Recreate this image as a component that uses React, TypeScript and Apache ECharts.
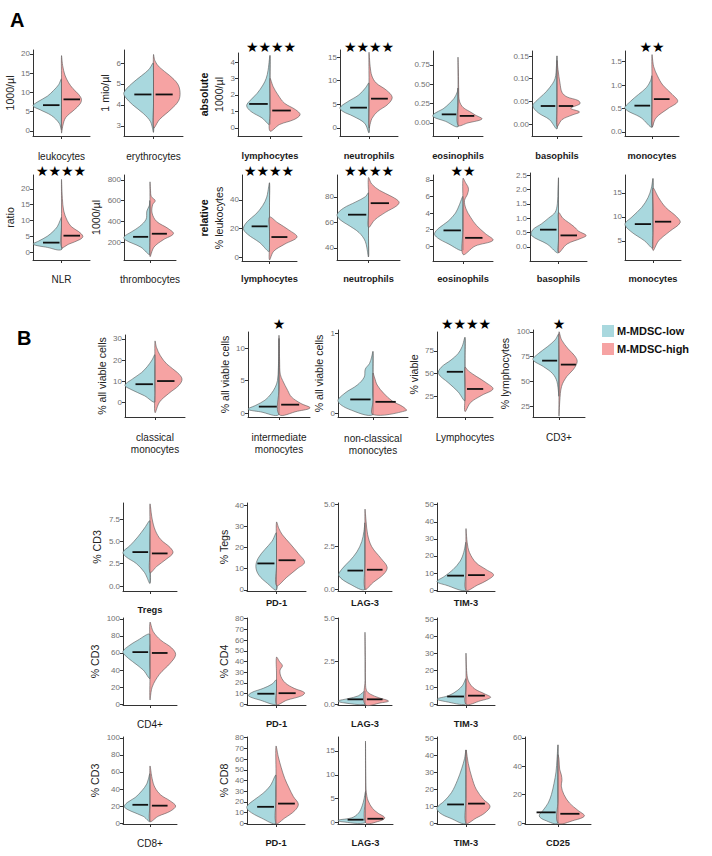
import React, { useEffect, useRef } from "react";
import * as echarts from "echarts";

const LOW_COLOR = "#A9D8DE";
const HIGH_COLOR = "#F6A3A3";
const FONT = "Liberation Sans, Arial, sans-serif";

// ---------- data: violin profiles [value, relative half-width], bottom tip -> top tip ----------
// Panel A, row 1 (absolute)
const leukLow = [[0.3, 0], [2, 0.08], [4, 0.35], [5.5, 0.75], [6.5, 1.0], [7.5, 0.85], [9, 0.5], [10.5, 0.28], [12, 0.1], [13.5, 0]];
const leukHigh = [[-0.5, 0], [1.5, 0.05], [3.5, 0.15], [5.5, 0.45], [7, 0.65], [8.2, 0.7], [9.5, 0.6], [11, 0.4], [12.5, 0.25], [14.5, 0.12], [17, 0.04], [19.5, 0]];
const leukMed = [6.7, 8.2];
const erythLow = [[2.7, 0], [3.2, 0.1], [3.6, 0.35], [4.0, 0.7], [4.4, 0.97], [4.6, 1.0], [5.0, 0.75], [5.4, 0.4], [5.7, 0.15], [6.0, 0]];
const erythHigh = [[2.9, 0], [3.3, 0.2], [3.8, 0.6], [4.2, 0.85], [4.6, 0.9], [5.0, 0.82], [5.4, 0.55], [5.8, 0.2], [6.1, 0.05], [6.4, 0]];
const erythMed = [4.5, 4.5];
const lymphAbsLow = [[0.2, 0], [0.6, 0.25], [1.0, 0.6], [1.35, 0.73], [1.7, 0.6], [2.1, 0.4], [2.6, 0.22], [3.0, 0.12], [3.5, 0.06], [4.4, 0]];
const lymphAbsHigh = [[-0.2, 0], [0.2, 0.3], [0.5, 0.75], [0.8, 0.94], [1.1, 0.8], [1.5, 0.45], [2.0, 0.25], [2.5, 0.1], [3.0, 0]];
const lymphAbsMed = [1.45, 1.05];
const neutAbsLow = [[-1, 0], [1, 0.15], [2.5, 0.55], [3.5, 0.9], [4.3, 1.0], [5.5, 0.75], [7, 0.35], [8.5, 0.12], [9.5, 0]];
const neutAbsHigh = [[0, 0], [2, 0.1], [3.5, 0.3], [5, 0.65], [6.5, 0.8], [8, 0.6], [9.5, 0.25], [11, 0.1], [13, 0.04], [16, 0]];
const neutAbsMed = [4.3, 6.2];
const eosAbsLow = [[-0.05, 0], [0.02, 0.5], [0.08, 1.0], [0.12, 0.95], [0.18, 0.6], [0.25, 0.35], [0.32, 0.15], [0.4, 0.03], [0.45, 0]];
const eosAbsHigh = [[-0.03, 0], [0.0, 0.4], [0.05, 0.96], [0.1, 0.7], [0.15, 0.45], [0.2, 0.2], [0.28, 0.06], [0.4, 0.03], [0.6, 0.02], [0.85, 0]];
const eosAbsMed = [0.11, 0.09];
const basoAbsLow = [[-0.01, 0], [0.01, 0.3], [0.025, 0.75], [0.04, 0.97], [0.05, 0.85], [0.065, 0.55], [0.08, 0.3], [0.1, 0.08], [0.13, 0.02], [0.15, 0]];
const basoAbsHigh = [[-0.005, 0], [0.01, 0.2], [0.02, 0.6], [0.027, 0.9], [0.035, 0.55], [0.045, 0.92], [0.052, 0.85], [0.06, 0.4], [0.07, 0.2], [0.09, 0.12], [0.12, 0.04], [0.14, 0]];
const basoAbsMed = [0.04, 0.04];
const monoAbsLow = [[0.1, 0], [0.3, 0.4], [0.5, 1.0], [0.65, 0.8], [0.8, 0.5], [0.95, 0.2], [1.1, 0.05], [1.2, 0]];
const monoAbsHigh = [[0.1, 0], [0.3, 0.15], [0.5, 0.6], [0.65, 0.95], [0.8, 0.75], [1.0, 0.4], [1.2, 0.2], [1.4, 0.06], [1.65, 0]];
const monoAbsMed = [0.56, 0.7];

// Panel A, row 2 (ratio / relative)
const nlrLow = [[0.8, 0], [1.5, 0.5], [2.5, 1.0], [3.5, 0.8], [5, 0.5], [6.5, 0.3], [8, 0.15], [10, 0.05], [11, 0]];
const nlrHigh = [[1.5, 0], [2.5, 0.25], [4, 0.65], [5, 0.75], [6.5, 0.6], [8, 0.35], [10, 0.2], [13, 0.08], [17, 0.03], [23, 0]];
const nlrMed = [3, 5.2];
const thrombLow = [[80, 0], [150, 0.35], [220, 0.95], [250, 1.0], [300, 0.7], [350, 0.4], [420, 0.15], [500, 0.12], [550, 0.03], [600, 0]];
const thrombHigh = [[60, 0], [150, 0.15], [220, 0.5], [280, 0.9], [330, 0.7], [400, 0.25], [480, 0.08], [560, 0.1], [600, 0.2], [640, 0.05], [700, 0.02], [780, 0]];
const thrombMed = [250, 280];
const lymphRelLow = [[4, 0], [10, 0.35], [16, 0.8], [20, 0.95], [25, 0.8], [30, 0.5], [36, 0.25], [42, 0.1], [52, 0]];
const lymphRelHigh = [[-2, 0], [4, 0.15], [9, 0.55], [14, 1.0], [19, 0.7], [24, 0.3], [28, 0]];
const lymphRelMed = [21.5, 14];
const neutRelLow = [[33, 0], [45, 0.1], [52, 0.3], [58, 0.65], [62, 0.9], [66, 1.0], [71, 0.8], [76, 0.4], [80, 0.1], [83, 0]];
const neutRelHigh = [[56, 0], [62, 0.2], [68, 0.55], [73, 0.9], [76, 0.97], [80, 0.75], [85, 0.35], [90, 0.1], [95, 0]];
const neutRelMed = [66, 75];
const eosRelLow = [[-0.5, 0], [0.3, 0.5], [1.0, 0.85], [1.5, 0.95], [2.2, 0.8], [3, 0.5], [4, 0.25], [5, 0.12], [6, 0]];
const eosRelHigh = [[-1, 0], [0, 0.4], [0.7, 1.0], [1.5, 0.75], [2.5, 0.45], [3.5, 0.25], [4.5, 0.1], [5.5, 0.05], [6.3, 0.15], [7, 0.18], [7.7, 0.08], [8.2, 0]];
const eosRelMed = [1.9, 1.0];
const basoRelLow = [[-0.2, 0], [0.1, 0.4], [0.4, 0.95], [0.6, 0.9], [0.8, 0.6], [1.0, 0.35], [1.2, 0.12], [1.5, 0.04], [2.0, 0.02], [2.4, 0]];
const basoRelHigh = [[-0.2, 0], [0.1, 0.3], [0.3, 0.8], [0.4, 0.97], [0.55, 0.7], [0.7, 0.55], [0.85, 0.35], [1.0, 0.15], [1.2, 0]];
const basoRelMed = [0.6, 0.4];
const monoRelLow = [[3.5, 0], [5, 0.3], [7, 0.8], [8.5, 1.0], [10, 0.75], [12, 0.4], [14, 0.18], [16, 0.06], [18, 0]];
const monoRelHigh = [[3, 0], [5, 0.2], [7, 0.6], [8.8, 0.97], [10, 0.85], [12, 0.45], [14, 0.2], [16, 0]];
const monoRelMed = [8.5, 9];

// Panel B, row 1
const classLow = [[0, 0], [3, 0.35], [6, 0.8], [8, 1.0], [11, 0.75], [14, 0.45], [17, 0.25], [20, 0.1], [22.5, 0]];
const classHigh = [[-5, 0], [0, 0.15], [4, 0.45], [8, 0.8], [11, 0.9], [14, 0.75], [18, 0.4], [22, 0.18], [26, 0.05], [29, 0]];
const classMed = [8.5, 10];
const interLow = [[-0.2, 0], [0.2, 0.6], [0.6, 1.0], [1.2, 0.75], [2, 0.45], [3, 0.25], [4, 0.12], [5, 0.05], [7, 0.02], [11.5, 0]];
const interHigh = [[-0.2, 0], [0.3, 0.6], [0.8, 1.0], [1.5, 0.7], [2.5, 0.4], [3.5, 0.28], [5, 0.12], [6, 0.04], [8, 0.02], [12, 0]];
const interMed = [1.0, 1.3];
const nonclassLow = [[-0.02, 0], [0.05, 0.7], [0.15, 1.0], [0.25, 0.8], [0.35, 0.45], [0.45, 0.25], [0.55, 0.22], [0.62, 0.1], [0.7, 0.04], [0.77, 0]];
const nonclassHigh = [[-0.02, 0], [0.03, 0.95], [0.08, 0.85], [0.15, 0.55], [0.25, 0.3], [0.35, 0.12], [0.45, 0.04], [0.5, 0]];
const nonclassMed = [0.17, 0.14];
const lymphViaLow = [[20, 0], [30, 0.25], [40, 0.6], [50, 0.95], [57, 0.85], [65, 0.5], [72, 0.25], [80, 0.1], [90, 0]];
const lymphViaHigh = [[8, 0], [18, 0.2], [26, 0.6], [33, 1.0], [40, 0.75], [47, 0.4], [53, 0.12], [57, 0]];
const lymphViaMed = [52, 33];
const cd3Low = [[35, 0], [50, 0.08], [58, 0.25], [65, 0.6], [72, 1.0], [78, 0.8], [85, 0.45], [92, 0.15], [98, 0]];
const cd3High = [[15, 0], [30, 0.03], [45, 0.1], [55, 0.3], [62, 0.55], [70, 0.7], [76, 0.6], [83, 0.35], [92, 0.1], [100, 0]];
const cd3Med = [71, 67];

// Panel B, Tregs row
const tregLow = [[0.3, 0], [1.5, 0.2], [2.5, 0.5], [3.3, 0.9], [3.8, 1.0], [4.5, 0.75], [5.5, 0.45], [6.5, 0.2], [7.3, 0]];
const tregHigh = [[1.5, 0], [2.2, 0.25], [3, 0.6], [3.7, 0.85], [4.3, 0.75], [5.2, 0.4], [6.2, 0.2], [7.5, 0.08], [9.2, 0]];
const tregMed = [3.8, 3.65];
const tregPd1Low = [[0, 0], [3, 0.3], [7, 0.6], [11, 0.7], [15, 0.62], [19, 0.4], [23, 0.15], [27, 0]];
const tregPd1High = [[2, 0], [6, 0.35], [10, 0.7], [13, 0.95], [17, 0.75], [22, 0.45], [26, 0.2], [29, 0.08], [32, 0]];
const tregPd1Med = [12.5, 14];
const tregLagLow = [[0, 0], [0.3, 0.55], [0.8, 0.97], [1.2, 0.85], [1.7, 0.55], [2.2, 0.3], [2.8, 0.12], [3.4, 0.04], [3.9, 0]];
const tregLagHigh = [[0, 0], [0.4, 0.3], [0.9, 0.7], [1.3, 0.82], [1.8, 0.6], [2.5, 0.25], [3.2, 0.1], [4.0, 0.04], [4.7, 0]];
const tregLagMed = [1.1, 1.15];
const tregTimLow = [[0, 0], [3, 0.7], [5, 1.0], [8, 0.75], [12, 0.45], [17, 0.2], [22, 0.08], [28, 0]];
const tregTimHigh = [[0, 0], [3, 0.4], [6, 0.75], [9, 0.95], [12, 0.7], [16, 0.35], [22, 0.12], [28, 0.04], [36, 0]];
const tregTimMed = [8.5, 8.8];

// Panel B, CD4+ row
const cd4Low = [[30, 0], [40, 0.25], [50, 0.65], [58, 0.95], [62, 1.0], [68, 0.8], [75, 0.45], [82, 0]];
const cd4High = [[5, 0], [20, 0.08], [35, 0.35], [48, 0.75], [58, 0.95], [66, 0.8], [75, 0.4], [85, 0.12], [96, 0]];
const cd4Med = [61, 60];
const cd4Pd1Low = [[0, 0], [4, 0.55], [8, 0.95], [11, 0.85], [15, 0.45], [19, 0.15], [23, 0]];
const cd4Pd1High = [[0, 0], [4, 0.35], [8, 0.85], [11, 0.95], [15, 0.6], [20, 0.3], [26, 0.15], [32, 0.12], [36, 0.2], [40, 0.1], [44, 0]];
const cd4Pd1Med = [10, 10.5];
const cd4LagLow = [[0, 0], [0.1, 0.8], [0.2, 1.0], [0.35, 0.6], [0.5, 0.25], [0.7, 0.08], [0.8, 0]];
const cd4LagHigh = [[0, 0], [0.1, 0.6], [0.2, 0.87], [0.4, 0.5], [0.6, 0.2], [0.8, 0.06], [1.2, 0.02], [2.5, 0.015], [4.2, 0]];
const cd4LagMed = [0.3, 0.3];
const cd4TimLow = [[0, 0], [1.5, 0.7], [3, 1.0], [5, 0.6], [8, 0.3], [11, 0.12], [15, 0]];
const cd4TimHigh = [[0, 0], [2, 0.5], [4, 0.85], [6, 0.65], [9, 0.3], [13, 0.1], [18, 0.03], [30, 0]];
const cd4TimMed = [4.5, 5];

// Panel B, CD8+ row
const cd8Low = [[2, 0], [8, 0.25], [14, 0.7], [19, 0.95], [24, 0.85], [30, 0.55], [38, 0.3], [46, 0.12], [58, 0]];
const cd8High = [[2, 0], [8, 0.3], [14, 0.75], [20, 0.95], [26, 0.75], [33, 0.4], [42, 0.18], [52, 0.08], [67, 0]];
const cd8Med = [21.5, 20.5];
const cd8Pd1Low = [[0, 0], [5, 0.5], [12, 0.95], [16, 1.0], [22, 0.75], [28, 0.45], [35, 0.2], [45, 0]];
const cd8Pd1High = [[0, 0], [5, 0.3], [12, 0.65], [18, 0.77], [25, 0.6], [33, 0.45], [42, 0.3], [52, 0.18], [62, 0.08], [72, 0]];
const cd8Pd1Med = [15.5, 18.5];
const cd8LagLow = [[0, 0], [0.2, 0.9], [0.5, 1.0], [1, 0.5], [2, 0.25], [3.5, 0.12], [5, 0.05], [6.5, 0]];
const cd8LagHigh = [[0, 0], [0.3, 0.5], [1, 0.7], [2, 0.45], [3, 0.25], [4.5, 0.1], [5.5, 0.05], [7, 0.02], [17, 0]];
const cd8LagMed = [0.6, 0.8];
const cd8TimLow = [[0, 0], [3, 0.55], [6, 0.9], [9, 1.0], [13, 0.75], [18, 0.5], [25, 0.3], [32, 0.15], [38, 0.05], [43, 0]];
const cd8TimHigh = [[0, 0], [3, 0.35], [6, 0.65], [10, 0.83], [14, 0.6], [20, 0.35], [27, 0.2], [35, 0.08], [43, 0]];
const cd8TimMed = [11, 11.5];
const cd25Low = [[0, 0], [2, 0.4], [5, 0.57], [9, 0.45], [14, 0.3], [20, 0.2], [28, 0.12], [36, 0.06], [45, 0.03], [55, 0]];
const cd25High = [[0, 0], [2, 0.5], [5, 0.8], [9, 0.6], [14, 0.35], [20, 0.18], [26, 0.1], [30, 0.12], [34, 0.1], [38, 0.05], [45, 0.03], [48, 0]];
const cd25Med = [7.5, 6.5];

// ---------- chart table ----------
// box: [axisX, top, right, bottom]; gap: y-name gap; lm: x-label margin
type Spec = {
  label: string; bold: boolean; yName?: string; gap?: number;
  low: number[][]; high: number[][]; med: number[];
  range: number[]; ticks: number[]; dec: number; stars?: string;
  box: number[]; lm: number; star?: number[];
};

const charts: Spec[] = [
  // A row 1
  { label: "leukocytes", bold: false, yName: "{n|1000/µl}", gap: 12, low: leukLow, high: leukHigh, med: leukMed, range: [-1.3, 21], ticks: [0, 5, 10, 15, 20], dec: 0, box: [33, 50, 90, 136], lm: 14 },
  { label: "erythrocytes", bold: false, yName: "{n|1 mio/µl}", gap: 10, low: erythLow, high: erythHigh, med: erythMed, range: [2.52, 6.62], ticks: [3, 4, 5, 6], dec: 0, box: [124, 50, 183, 136], lm: 14 },
  { label: "lymphocytes", bold: true, yName: "{b|absolute}\n{n|1000/µl}", gap: 5, low: lymphAbsLow, high: lymphAbsHigh, med: lymphAbsMed, range: [-0.5, 4.55], ticks: [0, 1, 2, 3, 4], dec: 0, box: [238, 53, 302, 136], lm: 14, stars: "★★★★", star: [271, 47] },
  { label: "neutrophils", bold: true, low: neutAbsLow, high: neutAbsHigh, med: neutAbsMed, range: [-1.7, 16.5], ticks: [0, 5, 10, 15], dec: 0, box: [340, 50, 398, 136], lm: 14, stars: "★★★★", star: [369, 47] },
  { label: "eosinophils", bold: true, low: eosAbsLow, high: eosAbsHigh, med: eosAbsMed, range: [-0.17, 0.93], ticks: [0, 0.25, 0.5, 0.75], dec: 2, box: [433, 51, 483, 136], lm: 14 },
  { label: "basophils", bold: true, low: basoAbsLow, high: basoAbsHigh, med: basoAbsMed, range: [-0.026, 0.161], ticks: [0, 0.05, 0.1, 0.15], dec: 2, box: [532, 51, 582, 136], lm: 14 },
  { label: "monocytes", bold: true, low: monoAbsLow, high: monoAbsHigh, med: monoAbsMed, range: [-0.09, 1.73], ticks: [0, 0.5, 1, 1.5], dec: 1, box: [625, 51, 679, 136], lm: 14, stars: "★★", star: [652, 47] },
  // A row 2
  { label: "NLR", bold: false, yName: "{n|ratio}", gap: 12, low: nlrLow, high: nlrHigh, med: nlrMed, range: [-2.5, 24.4], ticks: [0, 5, 10, 15, 20], dec: 0, box: [33, 175, 90, 260], lm: 13, stars: "★★★★", star: [61, 171] },
  { label: "thrombocytes", bold: false, yName: "{n|1000/µl}", gap: 16, low: thrombLow, high: thrombHigh, med: thrombMed, range: [26, 848], ticks: [200, 400, 600, 800], dec: 0, box: [124, 175, 176, 260], lm: 13 },
  { label: "lymphocytes", bold: true, yName: "{b|relative}\n{n|% leukocytes}", gap: 14, low: lymphRelLow, high: lymphRelHigh, med: lymphRelMed, range: [-2.8, 57.5], ticks: [0, 20, 40], dec: 0, box: [242, 175, 297, 261], lm: 12, stars: "★★★★", star: [269, 171] },
  { label: "neutrophils", bold: true, low: neutRelLow, high: neutRelHigh, med: neutRelMed, range: [30.6, 97], ticks: [40, 60, 80], dec: 0, box: [337, 175, 400, 260], lm: 13, stars: "★★★★", star: [369, 171] },
  { label: "eosinophils", bold: true, low: eosRelLow, high: eosRelHigh, med: eosRelMed, range: [-1.8, 8.6], ticks: [0, 2, 4, 6, 8], dec: 0, box: [433, 175, 493, 261], lm: 12, stars: "★★", star: [463, 171] },
  { label: "basophils", bold: true, low: basoRelLow, high: basoRelHigh, med: basoRelMed, range: [-0.49, 2.57], ticks: [0, 0.5, 1, 1.5, 2, 2.5], dec: 1, box: [530, 173, 587, 261], lm: 12 },
  { label: "monocytes", bold: true, low: monoRelLow, high: monoRelHigh, med: monoRelMed, range: [1.0, 18.75], ticks: [5, 10, 15], dec: 0, box: [625, 175, 681, 260], lm: 13 },
  // B row 1
  { label: "classical\nmonocytes", bold: false, yName: "{n|% all viable cells}", gap: 14, low: classLow, high: classHigh, med: classMed, range: [-7.1, 31.9], ticks: [0, 10, 20, 30], dec: 0, box: [125, 335, 185, 417], lm: 14 },
  { label: "intermediate\nmonocytes", bold: false, yName: "{n|% all viable cells}", gap: 15, low: interLow, high: interHigh, med: interMed, range: [-0.6, 12.5], ticks: [0, 5, 10], dec: 0, box: [248, 332, 310, 417], lm: 14, stars: "★", star: [279, 324] },
  { label: "non-classical\nmonocytes", bold: false, yName: "{n|% all viable cells}", gap: 10, low: nonclassLow, high: nonclassHigh, med: nonclassMed, range: [-0.05, 1.04], ticks: [0, 1], dec: 0, box: [338, 330, 408, 417], lm: 15 },
  { label: "Lymphocytes", bold: false, yName: "{n|% viable}", gap: 13, low: lymphViaLow, high: lymphViaHigh, med: lymphViaMed, range: [2, 96], ticks: [25, 50, 75], dec: 0, box: [437, 332, 493, 417], lm: 14, stars: "★★★★", star: [466, 324] },
  { label: "CD3+", bold: false, yName: "{n|% lymphocytes}", gap: 16, low: cd3Low, high: cd3High, med: cd3Med, range: [14, 102], ticks: [25, 50, 75, 100], dec: 0, box: [533, 330, 585, 417], lm: 14, stars: "★", star: [559, 324] },
  // B Tregs row
  { label: "Tregs", bold: true, yName: "{n|% CD3}", gap: 15, low: tregLow, high: tregHigh, med: tregMed, range: [-0.56, 9.3], ticks: [0, 2.5, 5, 7.5], dec: 1, box: [123, 503, 177, 591], lm: 13 },
  { label: "PD-1", bold: true, yName: "{n|% Tegs}", gap: 11, low: tregPd1Low, high: tregPd1High, med: tregPd1Med, range: [-0.5, 41], ticks: [0, 10, 20, 30, 40], dec: 0, box: [247, 503, 306, 591], lm: 6 },
  { label: "LAG-3", bold: true, low: tregLagLow, high: tregLagHigh, med: tregLagMed, range: [-0.1, 5.07], ticks: [0, 2.5, 5], dec: 1, box: [338, 503, 392, 591], lm: 6 },
  { label: "TIM-3", bold: true, low: tregTimLow, high: tregTimHigh, med: tregTimMed, range: [-0.5, 51], ticks: [0, 10, 20, 30, 40, 50], dec: 0, box: [437, 503, 495, 591], lm: 6 },
  // B CD4+ row
  { label: "CD4+", bold: false, yName: "{n|% CD3}", gap: 15, low: cd4Low, high: cd4High, med: cd4Med, range: [-1, 101], ticks: [0, 20, 40, 60, 80, 100], dec: 0, box: [123, 618, 177, 705], lm: 13 },
  { label: "PD-1", bold: true, yName: "{n|% CD4}", gap: 12, low: cd4Pd1Low, high: cd4Pd1High, med: cd4Pd1Med, range: [-0.5, 80.5], ticks: [0, 10, 20, 30, 40, 50, 60, 70, 80], dec: 0, box: [247, 618, 306, 705], lm: 13 },
  { label: "LAG-3", bold: true, low: cd4LagLow, high: cd4LagHigh, med: cd4LagMed, range: [-0.03, 5.03], ticks: [0, 2.5, 5], dec: 1, box: [338, 618, 392, 705], lm: 13 },
  { label: "TIM-3", bold: true, low: cd4TimLow, high: cd4TimHigh, med: cd4TimMed, range: [-0.5, 50.7], ticks: [0, 10, 20, 30, 40, 50], dec: 0, box: [437, 618, 495, 705], lm: 13 },
  // B CD8+ row
  { label: "CD8+", bold: false, yName: "{n|% CD3}", gap: 15, low: cd8Low, high: cd8High, med: cd8Med, range: [-1, 101], ticks: [0, 20, 40, 60, 80, 100], dec: 0, box: [123, 737, 177, 824], lm: 13 },
  { label: "PD-1", bold: true, yName: "{n|% CD8}", gap: 12, low: cd8Pd1Low, high: cd8Pd1High, med: cd8Pd1Med, range: [-0.5, 80.5], ticks: [0, 10, 20, 30, 40, 50, 60, 70, 80], dec: 0, box: [247, 737, 305, 824], lm: 13 },
  { label: "LAG-3", bold: true, low: cd8LagLow, high: cd8LagHigh, med: cd8LagMed, range: [-0.3, 17.9], ticks: [0, 5, 10, 15], dec: 0, box: [338, 737, 393, 824], lm: 13 },
  { label: "TIM-3", bold: true, low: cd8TimLow, high: cd8TimHigh, med: cd8TimMed, range: [-0.5, 50.7], ticks: [0, 10, 20, 30, 40, 50], dec: 0, box: [437, 737, 495, 824], lm: 13 },
  { label: "CD25", bold: true, low: cd25Low, high: cd25High, med: cd25Med, range: [-0.7, 60.6], ticks: [0, 20, 40, 60], dec: 0, box: [525, 737, 591, 824], lm: 13 },
];

const legendNames = ["M-MDSC-low", "M-MDSC-high"];

function makeRender(low: number[][], high: number[][]) {
  return (params: any, api: any) => {
    const cx = api.coord([0, api.value(1)])[0];
    const sz = api.size([1, 0]);
    const half = (sz && sz[0] ? sz[0] : 50) / 2;
    const py = (v: number) => api.coord([0, v])[1];
    const halfShape = (prof: number[][], dir: number, fill: string) => {
      const yb = py(prof[0][0]);
      const yt = py(prof[prof.length - 1][0]);
      const pts: number[][] = [
        [cx, yt],
        [cx, yt + (yb - yt) / 3],
        [cx, yt + (2 * (yb - yt)) / 3],
      ];
      for (let k = 0; k < prof.length - 1; k++) {
        pts.push([cx + dir * prof[k][1] * half, py(prof[k][0])]);
      }
      return {
        type: "polygon",
        shape: { points: pts, smooth: 0.35 },
        style: { fill, stroke: "#555", lineWidth: 0.6 },
      };
    };
    const med = (v: number, dir: number) => ({
      type: "line",
      shape: { x1: cx + dir * 0.07 * half, y1: py(v), x2: cx + dir * 0.65 * half, y2: py(v) },
      style: { stroke: "#111", lineWidth: 1.8 },
    });
    return {
      type: "group",
      children: [
        halfShape(low, -1, LOW_COLOR),
        halfShape(high, 1, HIGH_COLOR),
        { type: "line", shape: { x1: cx, y1: py(low[low.length - 1][0]), x2: cx, y2: py(low[0][0]) }, style: { stroke: "#666", lineWidth: 0.6 } },
        med(api.value(1), -1),
        med(api.value(2), 1),
      ],
    };
  };
}

export default function App() {
  const ref = useRef<HTMLDivElement>(null);
  useEffect(() => {
    document.body.style.margin = "0";
    if (!ref.current) return;
    const chart = echarts.init(ref.current, null, { renderer: "svg" });
    const grid: any[] = [];
    const xAxis: any[] = [];
    const yAxis: any[] = [];
    const series: any[] = [];
    const graphic: any[] = [];
    charts.forEach((c, i) => {
      const [x0, top, x1, bottom] = c.box;
      grid.push({ left: x0, top, width: x1 - x0, height: bottom - top });
      xAxis.push({
        type: "category", gridIndex: i, data: [c.label], boundaryGap: true,
        axisLine: { show: true, onZero: false, lineStyle: { color: "#333", width: 1 } },
        axisTick: { show: true, alignWithLabel: true, length: 3, lineStyle: { color: "#333" } },
        axisLabel: { show: true, interval: 0, margin: c.lm, fontSize: c.bold ? 9.3 : 10, lineHeight: 12, fontWeight: c.bold ? "bold" : "normal", color: "#1a1a1a", fontFamily: FONT },
        splitLine: { show: false },
      });
      yAxis.push({
        type: "value", gridIndex: i, min: c.range[0], max: c.range[1],
        axisLine: { show: true, lineStyle: { color: "#333", width: 1 } },
        axisTick: { show: true, length: 3, customValues: c.ticks, lineStyle: { color: "#333" } },
        axisLabel: { show: true, customValues: c.ticks, formatter: (v: number) => Number(v).toFixed(c.dec), fontSize: 8, color: "#707070", margin: 3, fontFamily: FONT },
        splitLine: { show: false },
        name: c.yName || "", nameLocation: "middle", nameRotate: 90, nameGap: c.gap || 10,
        nameTextStyle: {
          fontFamily: FONT, fontSize: 10.6, color: "#222", lineHeight: 15,
          rich: {
            b: { fontFamily: FONT, fontSize: 10.6, fontWeight: "bold", color: "#111", lineHeight: 15 },
            n: { fontFamily: FONT, fontSize: 10.6, color: "#222", lineHeight: 15 },
          },
        },
      });
      series.push({
        type: "custom", xAxisIndex: i, yAxisIndex: i, silent: true, clip: false,
        data: [[0, c.med[0], c.med[1]]],
        renderItem: makeRender(c.low, c.high),
      });
      if (c.stars && c.star) {
        graphic.push({
          type: "text", x: c.star[0], y: c.star[1],
          style: { text: c.stars, fontSize: 14, fontFamily: "DejaVu Sans", fill: "#000", align: "center", verticalAlign: "middle" },
        });
      }
    });
    graphic.push({ type: "text", x: 10, y: 20, style: { text: "A", fontSize: 20, fontWeight: "bold", fontFamily: FONT, fill: "#000", verticalAlign: "middle" } });
    graphic.push({ type: "text", x: 17, y: 338, style: { text: "B", fontSize: 20, fontWeight: "bold", fontFamily: FONT, fill: "#000", verticalAlign: "middle" } });
    [LOW_COLOR, HIGH_COLOR].forEach((col, k) => {
      graphic.push({ type: "rect", shape: { x: 602, y: 325 + k * 18, width: 12, height: 12 }, style: { fill: col } });
      graphic.push({ type: "text", x: 617, y: 331 + k * 18, style: { text: legendNames[k], fontSize: 11, fontWeight: "bold", fontFamily: FONT, fill: "#111", verticalAlign: "middle" } });
    });
    chart.setOption({ animation: false, backgroundColor: "#fff", grid, xAxis, yAxis, series, graphic });
    return () => chart.dispose();
  }, []);
  return <div ref={ref} style={{ width: 712, height: 856 }} />;
}
